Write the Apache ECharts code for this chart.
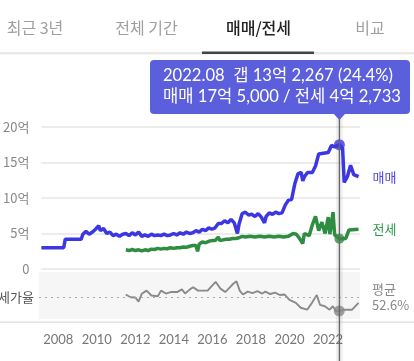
<!DOCTYPE html>
<html><head><meta charset="utf-8">
<script src="https://cdn.jsdelivr.net/npm/echarts@6/dist/echarts.min.js"></script>
<style>html,body{margin:0;padding:0;background:#fff;}#c{width:414px;height:361px;}</style>
</head><body><div id="c"></div>
<script>
// ---- data (억 원) ----
const saleDates = ['2007-01','2008-03','2008-04','2009-02','2009-03','2009-05','2009-07','2009-09','2009-11','2010-01','2010-02','2010-04','2010-06','2010-08','2010-10','2010-12','2011-02','2011-04','2011-06','2011-08','2011-10','2011-12','2012-02','2012-04','2012-06','2012-08','2012-10','2012-12','2013-02','2013-04','2013-06','2013-08','2013-10','2013-12','2014-02','2014-04','2014-06','2014-08','2014-10','2014-12','2015-02','2015-04','2015-06','2015-08','2015-10','2015-12','2016-02','2016-04','2016-06','2016-08','2016-10','2016-12','2017-02','2017-04','2017-05','2017-07','2017-09','2017-11','2018-01','2018-03','2018-05','2018-07','2018-09','2018-10','2018-12','2019-02','2019-04','2019-06','2019-08','2019-10','2019-12','2020-02','2020-04','2020-06','2020-08','2020-09','2020-10','2020-12','2021-03','2021-05','2021-07','2021-10','2022-01','2022-03','2022-05','2022-08','2022-10','2022-11','2023-01','2023-03','2023-04','2023-05','2023-08'];
const saleValues = [3.0,3.0,4.2,4.2,4.9,5.3,4.9,5.2,5.6,6.1,5.4,5.7,5.0,5.2,4.7,4.9,4.6,4.9,5.0,4.7,5.1,4.8,5.2,4.6,4.8,4.6,4.9,4.7,4.8,4.7,4.9,4.7,4.8,5.0,4.8,5.1,4.9,5.2,5.0,5.1,5.4,5.2,5.6,5.4,5.8,5.6,5.8,6.4,6.4,6.8,6.5,7.0,6.5,5.0,6.3,7.8,8.0,7.6,7.7,7.4,7.8,7.3,6.5,7.4,7.9,7.7,8.0,7.8,7.9,9.0,9.7,9.8,12.0,13.4,13.6,12.4,13.0,13.6,13.6,14.5,16.2,16.3,16.4,17.4,17.2,17.5,17.0,12.2,13.0,14.6,14.8,13.3,13.0];

const jeonseDates = ['2011-06','2011-08','2011-10','2011-12','2012-02','2012-04','2012-06','2012-08','2012-10','2012-12','2013-02','2013-04','2013-06','2013-08','2013-10','2013-12','2014-02','2014-04','2014-06','2014-08','2014-10','2014-12','2015-02','2015-03','2015-04','2015-06','2015-08','2015-10','2015-12','2016-02','2016-04','2016-05','2016-07','2016-09','2016-11','2017-01','2017-03','2017-05','2017-07','2017-09','2017-12','2018-03','2018-06','2018-09','2018-12','2019-03','2019-06','2019-09','2019-12','2020-03','2020-05','2020-07','2020-09','2020-10','2021-01','2021-03','2021-05','2021-07','2021-09','2021-11','2022-01','2022-02','2022-04','2022-05','2022-08','2022-12','2023-02','2023-08'];
const jeonseValues = [2.7,2.6,2.75,2.6,2.7,2.55,2.7,2.6,2.8,2.75,2.9,2.8,2.9,2.85,3.0,2.9,3.0,3.0,3.1,3.05,3.2,3.3,3.3,2.5,3.5,3.8,3.7,3.9,4.0,4.0,4.5,4.0,4.1,4.2,4.2,4.3,4.3,4.4,4.6,4.5,4.6,4.5,4.6,4.5,4.6,4.5,4.6,4.5,4.6,5.0,4.9,4.3,3.6,5.0,4.7,6.2,7.4,5.4,6.6,5.0,7.3,4.9,8.0,4.8,4.2733,4.3,5.5,5.6];

const ratioDates = ['2011-07','2011-10','2012-01','2012-03','2012-05','2012-08','2012-11','2013-03','2013-05','2013-08','2013-11','2014-03','2014-06','2014-08','2014-11','2015-01','2015-04','2015-10','2016-03','2016-06','2016-09','2016-12','2017-02','2017-04','2017-06','2017-08','2017-11','2018-02','2018-05','2018-08','2018-10','2019-01','2019-04','2019-07','2019-10','2020-01','2020-05','2020-08','2020-12','2021-03','2021-06','2021-08','2021-11','2022-02','2022-04','2022-06','2022-08','2022-11','2023-04','2023-08'];
const ratioValues = [58,52.5,52,43.5,59.5,66,56,54.5,66,60,63,63,68.5,60,68.5,73,66,66,84,70,63,73,80,85,66,58,64,61,65,60,64,59,62,57,58,47,41,31,27,41,57,37,34,27,34,24,24.4,27,27,41];

const ratioAverage = 52.6;
const yTicks = [0, 5, 10, 15, 20];
const xTickYears = [2008, 2010, 2012, 2014, 2016, 2018, 2020, 2022];
const tabs = ['최근 3년', '전체 기간', '매매/전세', '비교'];
const selectedDate = '2022-08';

// ---- helpers ----
function dec(d){ const p = d.split('-'); return +p[0] + (+p[1]-1)/12; }
function pairs(ds, vs){ return ds.map((d,i)=>[dec(d), vs[i]]); }
function fmtEok(v){
  const e = Math.floor(v + 1e-9);
  const r = Math.round((v - e) * 10000);
  return e + '억 ' + r.toLocaleString('en-US');
}

const BLUE = '#3d37e2', GREEN = '#2f8d42', GRAY = '#8a8a8a';
const CJK = "'Noto Sans CJK KR', 'Noto Sans', sans-serif";
const LAT = "Lato, 'Noto Sans CJK KR', sans-serif";

const chart = echarts.init(document.getElementById('c'), null, {renderer:'canvas'});
const xMin = 2007, xMax = 2023.66;

const selX = dec(selectedDate);
const sSale = saleValues[saleDates.indexOf(selectedDate)];
const sJeonse = jeonseValues[jeonseDates.indexOf(selectedDate)];
const sRatio = ratioValues[ratioDates.indexOf(selectedDate)];

chart.setOption({
  animation: false,
  textStyle: { fontFamily: CJK },
  grid: [
    { left: 39, right: 54, top: 127, height: 142 },
    { left: 39, right: 54, top: 272, height: 47, show: true, backgroundColor: '#f6f6f6', borderWidth: 0 }
  ],
  xAxis: [
    { type: 'value', gridIndex: 0, min: xMin, max: xMax, show: false },
    { type: 'value', gridIndex: 1, min: xMin, max: xMax,
      axisLine: { show: false }, axisTick: { show: false }, splitLine: { show: false },
      axisLabel: { customValues: xTickYears, color: '#777', fontSize: 13, fontFamily: LAT, margin: 14,
                   formatter: v => String(Math.round(v)) } }
  ],
  yAxis: [
    { type: 'value', gridIndex: 0, min: 0, max: 20, interval: 5,
      axisLine: { show: false }, axisTick: { show: false },
      axisLabel: { color: '#888', fontSize: 13, margin: 12, formatter: v => v === 0 ? '0' : v + '억' },
      splitLine: { lineStyle: { color: '#e6e6e6', width: 1.5 } } },
    { type: 'value', gridIndex: 1, min: 8, max: 104, show: false, splitLine: { show: false } }
  ],
  series: [
    { name: '매매', type: 'line', xAxisIndex: 0, yAxisIndex: 0, data: pairs(saleDates, saleValues),
      showSymbol: false, lineStyle: { color: BLUE, width: 3.5 }, itemStyle: { color: BLUE },
      endLabel: { show: true, formatter: '매매', color: '#4c47e6', fontSize: 13, distance: 14 } },
    { name: '전세', type: 'line', xAxisIndex: 0, yAxisIndex: 0, data: pairs(jeonseDates, jeonseValues),
      showSymbol: false, lineStyle: { color: GREEN, width: 3.5 }, itemStyle: { color: GREEN },
      endLabel: { show: true, formatter: '전세', color: '#2f9a48', fontSize: 13, distance: 14 } },
    { name: '전세가율', type: 'line', xAxisIndex: 1, yAxisIndex: 1, data: pairs(ratioDates, ratioValues),
      showSymbol: false, lineStyle: { color: GRAY, width: 1.9 }, itemStyle: { color: GRAY },
      markLine: { silent: true, symbol: 'none',
        lineStyle: { color: '#aaa', type: [2, 4], width: 1.2 },
        data: [
          { yAxis: ratioAverage, label: { position: 'start', formatter: '전세가율', color: '#555', fontSize: 13, distance: 5 } },
          { yAxis: ratioAverage, label: { position: 'end', formatter: '평균\n' + ratioAverage + '%', color: '#888', fontSize: 13, lineHeight: 16, distance: 12, align: 'left' } }
        ] } },
    { type: 'scatter', xAxisIndex: 0, yAxisIndex: 0, data: [[selX, sSale]], symbolSize: 11, itemStyle: { color: BLUE }, z: 5 },
    { type: 'scatter', xAxisIndex: 0, yAxisIndex: 0, data: [[selX, sJeonse]], symbolSize: 10, itemStyle: { color: GREEN }, z: 5 },
    { type: 'scatter', xAxisIndex: 1, yAxisIndex: 1, data: [[selX, sRatio]], symbolSize: 11, itemStyle: { color: '#888' }, z: 5 }
  ]
});

// ---- decorations: tabs, crosshair, tooltip ----
const px = chart.convertToPixel({ xAxisIndex: 0 }, selX);
const tipTop = 60, tipBottom = 114, tipLeft = 150, tipRight = 410;
const gap = sSale - sJeonse;
const line1 = selectedDate.replace('-', '.') + '  갭 ' + fmtEok(gap) + ' (' + sRatio + '%)';
const line2 = '매매 ' + fmtEok(sSale) + ' / 전세 ' + fmtEok(sJeonse);
const tabCenters = [35, 146.5, 258.5, 370];

const graphic = [
  { type: 'rect', shape: { x: 0, y: 52, width: 414, height: 2.5 }, style: { fill: '#e9e9e9' } },
  { type: 'rect', shape: { x: 202, y: 51.5, width: 112, height: 2.5 }, style: { fill: '#444' } },
  { type: 'rect', shape: { x: 0, y: 321.5, width: 414, height: 1.2 }, style: { fill: '#dedede' } },
  // crosshair band + line
  { type: 'rect', z: 1, shape: { x: px - 3.5, y: tipBottom, width: 7, height: 361 - tipBottom }, style: { fill: 'rgba(0,0,0,0.06)' }, silent: true },
  { type: 'line', z: 100, shape: { x1: px, y1: tipBottom, x2: px, y2: 361 }, style: { stroke: '#666', lineWidth: 1.4 } },
  // tooltip
  { type: 'rect', z: 200, shape: { x: tipLeft, y: tipTop, width: tipRight - tipLeft, height: tipBottom - tipTop, r: 4 }, style: { fill: '#5b5fdc' } },
  { type: 'polygon', z: 200, shape: { points: [[px - 6, tipBottom - 0.5], [px + 6, tipBottom - 0.5], [px, tipBottom + 6]] }, style: { fill: '#5b5fdc' } },
  { type: 'text', z: 201, style: { x: 163, y: 76, text: line1, fill: '#fff', font: '16.6px ' + LAT, verticalAlign: 'middle' } },
  { type: 'text', z: 201, style: { x: 163, y: 97, text: line2, fill: '#fff', font: '16.6px ' + LAT, verticalAlign: 'middle' } }
];
tabs.forEach((t, i) => {
  graphic.push({ type: 'text', style: { x: tabCenters[i], y: 27.5, text: t, align: 'center', verticalAlign: 'middle',
    fill: i === 2 ? '#222' : '#a0a0a0', font: (i === 2 ? '500 ' : '') + '16px ' + CJK } });
});
chart.setOption({ graphic: graphic });
</script>
</body></html>
